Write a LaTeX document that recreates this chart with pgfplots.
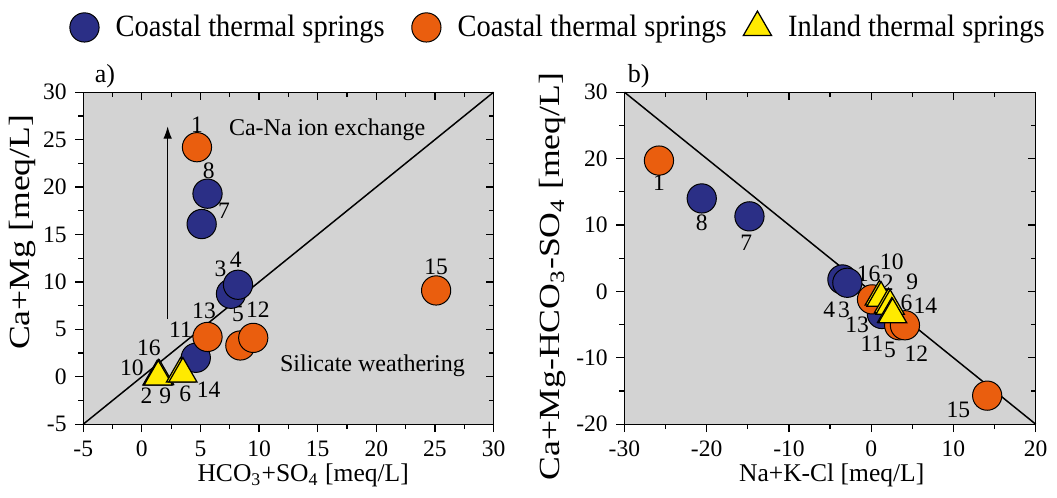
\documentclass[border=0pt]{standalone}
\usepackage{fontspec}
\setmainfont{Liberation Serif}
\newfontfamily\ylfont{Liberation Serif}[FakeStretch=1.22]
\usepackage{graphicx}
\usepackage{pgfplots}
\pgfplotsset{compat=1.18}
\usetikzlibrary{arrows.meta}

\definecolor{cblue}{HTML}{2B2F86}
\definecolor{corange}{HTML}{EA5E0E}
\definecolor{cyellow}{HTML}{FFEA00}
\definecolor{bggray}{HTML}{D3D3D3}

\newcommand\pl{\fontsize{9.5}{11}\selectfont}
\newcommand\lentry[1]{\scalebox{0.92}[1]{\fontsize{12.5}{14}\selectfont #1}}

\pgfplotsset{
  base/.style={scale only axis, height=134pt, clip=false,
    /pgf/number format/assume math mode=true,
    tick label style={font=\fontsize{9.5}{11}\selectfont},
    major tick length=3.2pt, minor tick length=2pt,
    every tick/.style={black, line width=0.5pt},
    every minor tick/.style={black, line width=0.5pt},
    axis line style={line width=0.5pt},
  },
  main/.style={base, axis background/.style={fill=bggray},
    tick align=outside, xtick pos=left, ytick pos=left,
    xlabel style={font=\fontsize{10.3}{12}\selectfont},
    ylabel style={font={\ylfont\fontsize{11.8}{13}\selectfont}},
  },
  frame/.style={base, tick align=inside, xtick pos=right, ytick pos=right,
    xticklabels={}, yticklabels={}},
  bl/.style={only marks, mark=*, mark size=5.9pt,
    mark options={fill=cblue, draw=black, line width=0.4pt}},
  orr/.style={only marks, mark=*, mark size=5.9pt,
    mark options={fill=corange, draw=black, line width=0.4pt}},
  yl/.style={only marks, mark=triangle*, mark size=6.6pt,
    mark options={fill=cyellow, draw=black, line width=0.5pt}},
  aaxis/.style={width=165.6pt, xmin=-5, xmax=30, ymin=-5, ymax=30,
    xtick={-5,0,...,30}, ytick={-5,0,...,30}, minor x tick num=1, minor y tick num=1},
  baxis/.style={width=166pt, xmin=-30, xmax=20, ymin=-20, ymax=30,
    xtick={-30,-20,...,20}, ytick={-20,-10,...,30}, minor x tick num=1, minor y tick num=1},
}

\begin{document}
\begin{tikzpicture}
\path (-33.6pt,-29.6pt) rectangle (389.2pt,171.2pt);

% ---------------- panel a ----------------
\begin{axis}[main, aaxis, at={(0pt,0pt)}, anchor=south west,
  xlabel={HCO\textsubscript{3}+SO\textsubscript{4} [meq/L]},
  ylabel={Ca+Mg [meq/L]},
  xlabel style={at={(axis description cs:0.536,-0.155)}, anchor=center},
  ylabel style={at={(axis description cs:-0.1486,0.578)}, anchor=center},
  legend columns=3,
  legend style={at={(axis description cs:-0.052,1.195)}, anchor=west,
    draw=none, fill=none,
    /tikz/column 1/.style={column sep=4.7pt},
    /tikz/column 2/.style={column sep=8.9pt},
    /tikz/column 3/.style={column sep=4.7pt},
    /tikz/column 4/.style={column sep=4.7pt},
    /tikz/column 5/.style={column sep=4.7pt}},
]
\addplot[bl] coordinates {(4.6,2.0) (5.6,19.3) (5.1,16.1) (7.6,8.75) (8.2,9.7)};
\addlegendentry{\lentry{Coastal thermal springs}}
\addplot[orr] coordinates {(4.7,24.2) (8.4,3.3) (9.5,4.1) (5.6,4.2) (25.1,9.1)};
\addlegendentry{\lentry{Coastal thermal springs}}
\addplot[yl] coordinates {(1.3,0.0) (1.4,0.1) (1.5,0.05) (1.4,0.0) (3.3,0.3) (3.5,0.3)};
\addlegendentry{\lentry{Inland thermal springs}}
\addplot[black, line width=0.6pt, forget plot] coordinates {(-5,-5) (30,30)};
\addplot[black, line width=0.5pt, -{Latex[length=5pt,width=3.5pt]}, forget plot] coordinates {(2.2,6.1) (2.2,26.4)};

\node[font=\fontsize{9.7}{11}\selectfont] at (axis cs:15.8,26.0) {Ca-Na ion exchange};
\node[font=\fontsize{9.7}{11}\selectfont, anchor=east] at (axis cs:28.3,1.15) {Silicate weathering};
\node[font=\fontsize{10.5}{12}\selectfont, anchor=base west, inner sep=0pt] at (axis description cs:0.027,1.03) {a)};

\node[font=\pl] at (axis cs:4.7,26.6) {1};
\node[font=\pl] at (axis cs:5.7,21.7) {8};
\node[font=\pl] at (axis cs:7.0,17.5) {7};
\node[font=\pl] at (axis cs:6.7,11.4) {3};
\node[font=\pl] at (axis cs:8.0,12.3) {4};
\node[font=\pl] at (axis cs:5.3,7.0) {13};
\node[font=\pl] at (axis cs:3.3,5.0) {11};
\node[font=\pl] at (axis cs:8.2,6.6) {5};
\node[font=\pl] at (axis cs:9.9,7.1) {12};
\node[font=\pl] at (axis cs:0.6,3.0) {16};
\node[font=\pl] at (axis cs:-0.85,0.9) {10};
\node[font=\pl] at (axis cs:0.4,-2.0) {2};
\node[font=\pl] at (axis cs:2.0,-2.0) {9};
\node[font=\pl] at (axis cs:3.7,-1.8) {6};
\node[font=\pl] at (axis cs:5.7,-1.4) {14};
\node[font=\pl] at (axis cs:25.1,11.6) {15};
\end{axis}
\begin{axis}[frame, aaxis, at={(0pt,0pt)}, anchor=south west]
\end{axis}

% ---------------- panel b ----------------
\begin{axis}[main, baxis, at={(218.4pt,0pt)}, anchor=south west,
  xlabel={Na+K-Cl [meq/L]},
  ylabel={Ca+Mg-HCO\textsubscript{3}-SO\textsubscript{4} [meq/L]},
  xlabel style={at={(axis description cs:0.504,-0.155)}, anchor=center},
  ylabel style={at={(axis description cs:-0.1747,0.445)}, anchor=center},
]
\addplot[bl] coordinates {(1.3,-3.4) (-20.6,14.0) (-14.8,11.3) (-3.5,1.8) (-2.9,1.3)};
\addplot[orr] coordinates {(-25.8,19.7) (0.1,-1.2) (3.4,-5.1) (4.1,-5.1) (14.1,-15.7)};
\addplot[yl] coordinates {(1.0,-0.8) (1.2,-1.0) (2.1,-2.0) (2.3,-2.2) (2.5,-3.4) (2.6,-3.5)};
\addplot[black, line width=0.6pt] coordinates {(-30,30) (20,-20)};

\node[font=\fontsize{10.5}{12}\selectfont, anchor=base west, inner sep=0pt] at (axis description cs:0.007,1.03) {b)};

\node[font=\pl] at (axis cs:-25.8,16.3) {1};
\node[font=\pl] at (axis cs:-20.6,10.3) {8};
\node[font=\pl] at (axis cs:-15.2,7.3) {7};
\node[font=\pl] at (axis cs:-5.1,-2.7) {4};
\node[font=\pl] at (axis cs:-3.3,-2.7) {3};
\node[font=\pl] at (axis cs:-0.3,2.6) {16};
\node[font=\pl] at (axis cs:2.5,4.5) {10};
\node[font=\pl] at (axis cs:2.0,1.3) {2};
\node[font=\pl] at (axis cs:5.0,1.5) {9};
\node[font=\pl] at (axis cs:4.3,-1.7) {6};
\node[font=\pl] at (axis cs:6.6,-2.1) {14};
\node[font=\pl] at (axis cs:-1.7,-5.1) {13};
\node[font=\pl] at (axis cs:0.1,-7.9) {11};
\node[font=\pl] at (axis cs:2.3,-8.8) {5};
\node[font=\pl] at (axis cs:5.5,-9.4) {12};
\node[font=\pl] at (axis cs:10.6,-17.8) {15};
\end{axis}
\begin{axis}[frame, baxis, at={(218.4pt,0pt)}, anchor=south west]
\end{axis}
\end{tikzpicture}
\end{document}
